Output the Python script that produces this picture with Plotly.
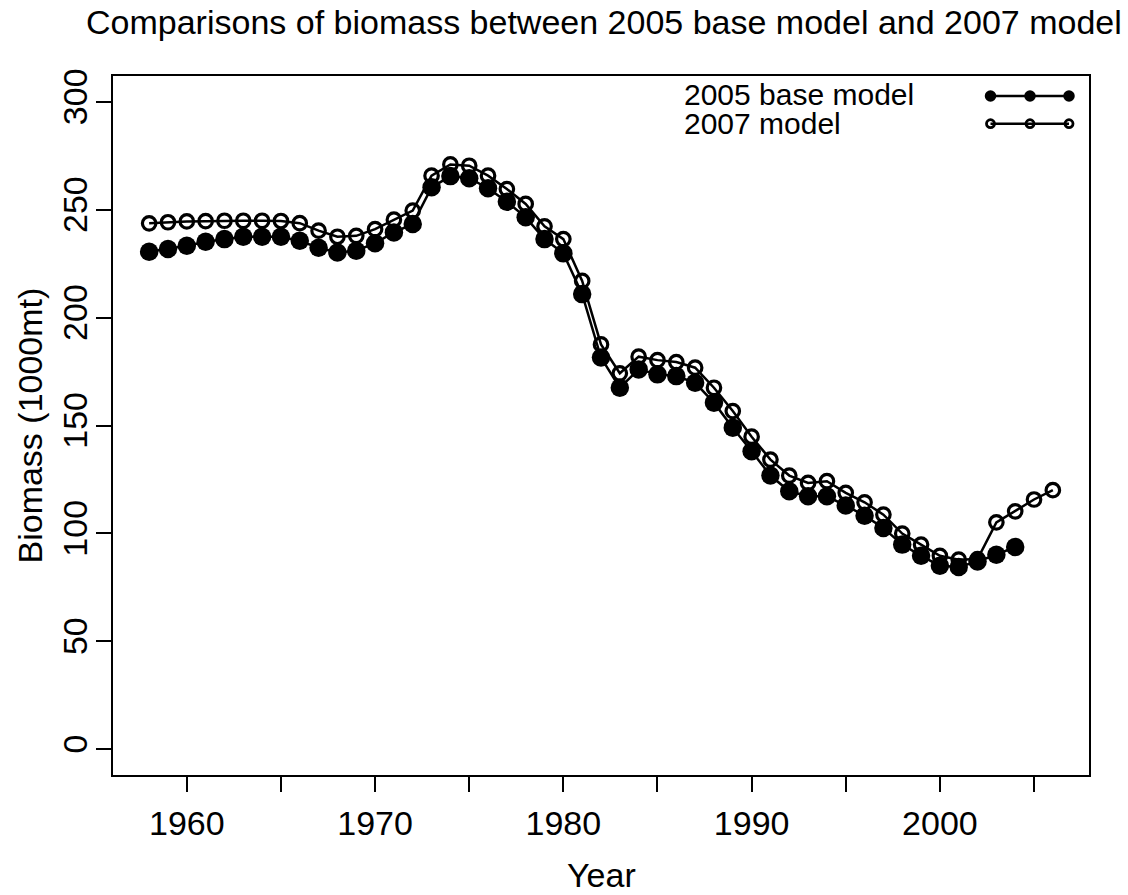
import plotly.graph_objects as go

# Biomass estimates (1000 mt) by year
years_2005 = list(range(1958, 2005))
biomass_2005 = [
    230.5, 231.8, 233.3, 235.2, 236.4, 237.5, 237.5, 237.5, 235.6, 232.4,
    230.2, 231.0, 234.5, 239.5, 243.4, 260.4, 265.6, 264.6, 260.0, 253.7,
    246.5, 236.4, 229.8, 210.9, 181.5, 167.5, 176.0, 173.7, 172.9, 169.8,
    160.6, 149.0, 138.1, 126.8, 119.5, 117.2, 117.2, 112.9, 108.2, 102.5,
    94.8, 89.6, 85.0, 84.4, 87.0, 90.1, 93.7,
]

years_2007 = list(range(1958, 2007))
biomass_2007 = [
    243.7, 244.2, 244.6, 244.7, 244.9, 244.9, 244.9, 244.8, 243.8, 240.3,
    237.5, 237.9, 241.0, 245.4, 249.6, 265.8, 271.0, 270.4, 265.8, 259.6,
    252.7, 242.3, 236.4, 217.0, 187.6, 174.2, 181.9, 180.3, 179.4, 176.8,
    167.5, 156.7, 144.8, 134.2, 126.8, 123.4, 124.2, 118.8, 114.4, 108.7,
    99.9, 94.8, 89.6, 87.8, 88.1, 105.1, 110.2, 115.7, 120.0,
]

series_names = ["2005 base model", "2007 model"]
x_ticks = list(range(1960, 2010, 5))
x_labels = [str(t) if t % 10 == 0 else "" for t in x_ticks]
y_ticks = list(range(0, 350, 50))

FONT = "Liberation Sans, Arial, Helvetica, sans-serif"
W, H = 1128, 895
L, R, T, B = 113, 39, 76, 120
PW, PH = W - L - R, H - T - B


def px_x(px):
    return (px - L) / PW


def px_y(py):
    return (H - B - py) / PH


# R-style 4% padding around the data / axis limits
x_lo, x_hi = min(years_2007), max(years_2007)
x_pad = 0.04 * (x_hi - x_lo)
y_lo, y_hi = 0, 300
y_pad = 0.04 * (y_hi - y_lo)

fig = go.Figure()

fig.add_trace(go.Scatter(
    x=years_2005, y=biomass_2005, mode="lines+markers", name=series_names[0],
    line=dict(color="black", width=2.5),
    marker=dict(symbol="circle", size=18.5, color="black", line=dict(width=0)),
    showlegend=False, cliponaxis=False,
))
fig.add_trace(go.Scatter(
    x=years_2007, y=biomass_2007, mode="lines+markers", name=series_names[1],
    line=dict(color="black", width=2.5),
    marker=dict(symbol="circle-open", size=13.5, color="black",
                line=dict(width=3.2, color="black")),
    showlegend=False, cliponaxis=False,
))

# Legend key glyphs on a pixel-based overlay axis pair
key_x = [990.5, 1030, 1069]
fig.add_trace(go.Scatter(
    x=key_x, y=[96] * 3, xaxis="x2", yaxis="y2", mode="lines+markers",
    line=dict(color="black", width=2.5),
    marker=dict(symbol="circle", size=11.5, color="black", line=dict(width=0)),
    showlegend=False, hoverinfo="skip", cliponaxis=False,
))
fig.add_trace(go.Scatter(
    x=key_x, y=[123.7] * 3, xaxis="x2", yaxis="y2", mode="lines+markers",
    line=dict(color="black", width=2.5),
    marker=dict(symbol="circle-open", size=8, color="black",
                line=dict(width=2.8, color="black")),
    showlegend=False, hoverinfo="skip", cliponaxis=False,
))

axis_common = dict(
    showline=True, linewidth=2, linecolor="black", mirror=True,
    showgrid=False, zeroline=False,
    ticks="outside", ticklen=15, tickwidth=2, tickcolor="black",
    tickfont=dict(family=FONT, size=34, color="black"),
)

fig.update_layout(
    width=W, height=H,
    margin=dict(l=L, r=R, t=T, b=B),
    paper_bgcolor="white", plot_bgcolor="white",
    xaxis=dict(range=[x_lo - x_pad, x_hi + x_pad], tickvals=x_ticks,
               ticktext=x_labels, ticklabelstandoff=2, **axis_common),
    yaxis=dict(range=[y_lo - y_pad, y_hi + y_pad], tickvals=y_ticks,
               tickangle=-90, ticklabelstandoff=-5, **axis_common),
    xaxis2=dict(overlaying="x", range=[L, L + PW], visible=False),
    yaxis2=dict(overlaying="y", range=[H - B, T], visible=False),
    annotations=[
        dict(text="Comparisons of biomass between 2005 base model and 2007 model",
             xref="paper", yref="paper", x=px_x(604), y=px_y(21.5),
             xanchor="center", yanchor="middle", showarrow=False,
             font=dict(family=FONT, size=34, color="black")),
        dict(text="Year", xref="paper", yref="paper", x=0.5, y=px_y(874.5),
             xanchor="center", yanchor="middle", showarrow=False,
             font=dict(family=FONT, size=34, color="black")),
        dict(text="Biomass (1000mt)", xref="paper", yref="paper",
             x=px_x(29), y=0.5, textangle=-90,
             xanchor="center", yanchor="middle", showarrow=False,
             font=dict(family=FONT, size=34, color="black")),
        dict(text=series_names[0], xref="paper", yref="paper",
             x=px_x(682), y=px_y(94.8), xanchor="left", yanchor="middle",
             showarrow=False, font=dict(family=FONT, size=30, color="black")),
        dict(text=series_names[1], xref="paper", yref="paper",
             x=px_x(682), y=px_y(123.5), xanchor="left", yanchor="middle",
             showarrow=False, font=dict(family=FONT, size=30, color="black")),
    ],
)

fig.write_html("out.html")
